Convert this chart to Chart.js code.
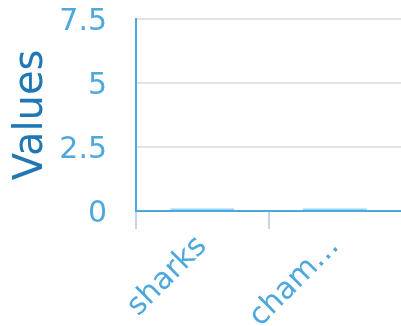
<!DOCTYPE html>
<html>
<head>
<meta charset="utf-8">
<script src="https://cdn.jsdelivr.net/npm/chart.js@4"></script>
<style>
  html, body { margin: 0; padding: 0; background: #fff; }
  #wrap { width: 401px; height: 326px; }
</style>
</head>
<body>
<div id="wrap"><canvas id="chart-area"></canvas></div>
<script>
var categories = ['sharks', 'chameleons'];
var values = [0.1, 0.1];
var yTicks = [0, 2.5, 5, 7.5];

var tickBlue = '#4ea8de';
var titleBlue = '#1f78b4';

var config = {
  type: 'bar',
  data: {
    labels: categories,
    datasets: [{
      label: 'Values',
      data: values,
      backgroundColor: 'rgba(135, 206, 250, 0.9)',
      borderWidth: 0,
      barPercentage: 0.6,
      categoryPercentage: 0.8
    }]
  },
  options: {
    responsive: true,
    maintainAspectRatio: false,
    animation: false,
    layout: { padding: { top: 0, right: -3, left: 4, bottom: 0 } },
    plugins: {
      legend: { display: false },
      tooltip: { enabled: false }
    },
    scales: {
      x: {
        border: { color: tickBlue, width: 2 },
        grid: {
          drawOnChartArea: false,
          tickLength: 18,
          lineWidth: 2,
          color: function(ctx) {
            // hide the extra grid line at the right end
            return ctx.type !== 'tick' ? 'rgba(0,0,0,0)' : '#c9d3e8';
          }
        },
        afterFit: function(axis) {
          axis.height = 115;
        },
        ticks: {
          color: tickBlue,
          padding: 0,
          font: { family: 'DejaVu Sans', size: 30 },
          maxRotation: 45,
          minRotation: 45,
          callback: function(v, i) {
            var s = categories[i];
            return s.length > 6 ? s.slice(0, 4) + '…' : s;
          }
        }
      },
      y: {
        min: 0,
        max: 7.5,
        border: { color: tickBlue, width: 2 },
        grid: { color: '#e3e3e3', drawTicks: false, lineWidth: 2 },
        afterBuildTicks: function(axis) {
          axis.ticks = yTicks.map(function(v) { return { value: v }; });
        },
        afterFit: function(axis) {
          axis.width = 132;
          axis.paddingTop = 19;
          axis.paddingBottom = 0;
        },
        ticks: {
          color: tickBlue,
          padding: 29,
          labelOffset: 3,
          font: { family: 'DejaVu Sans', size: 30 }
        },
        title: {
          display: true,
          text: 'Values',
          color: titleBlue,
          font: { family: 'DejaVu Sans', size: 40 }
        }
      }
    }
  }
};

window.myBar = new Chart(document.getElementById('chart-area'), config);
</script>
</body>
</html>
